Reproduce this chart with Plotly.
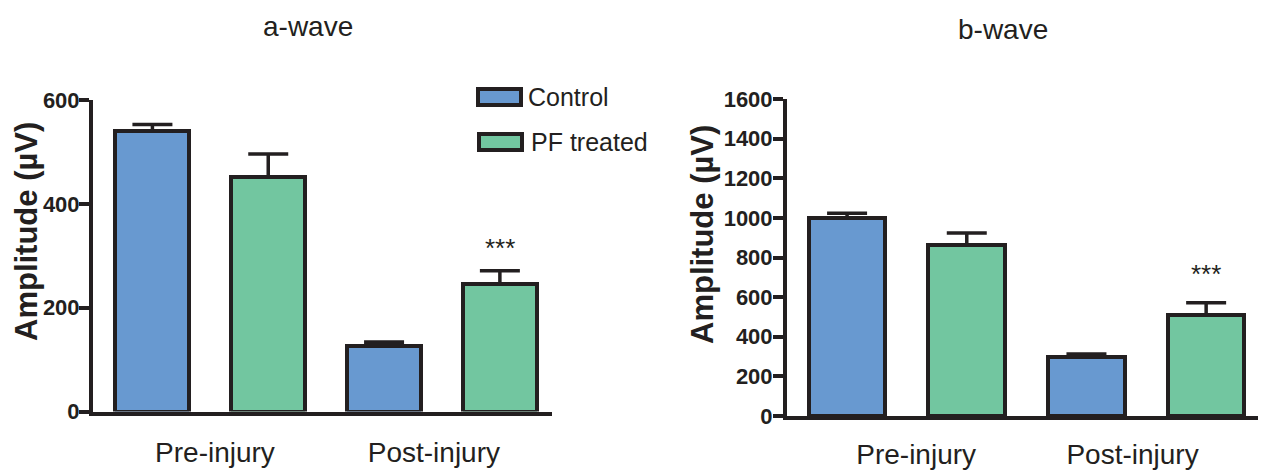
import plotly.graph_objects as go
from plotly.subplots import make_subplots

groups = ["Pre-injury", "Post-injury"]
series = ["Control", "PF treated"]
colors = ["#6899D0", "#72C6A0"]

# a-wave values (µV) and SEM
a_control = [540, 127]
a_control_err = [13, 7]
a_pf = [451, 246]
a_pf_err = [45, 25]

# b-wave values (µV) and SEM
b_control = [1000, 298]
b_control_err = [23, 15]
b_pf = [862, 508]
b_pf_err = [62, 63]

W, H = 1266, 474
OFF = 8  # page body margin
INK = "#231F20"
FONT = "Liberation Sans, Arial, sans-serif"

def px(x):
    return (x - OFF) / W

def py(y):
    return 1 - (y - OFF) / H

fig = make_subplots(rows=1, cols=2)

panels = [
    (1, [a_control, a_pf], [a_control_err, a_pf_err]),
    (2, [b_control, b_pf], [b_control_err, b_pf_err]),
]
for col, vals, errs in panels:
    for si, name in enumerate(series):
        xs = [gi * 2 + si for gi in range(len(groups))]
        fig.add_trace(go.Bar(
            x=xs, y=vals[si], name=name, width=0.64,
            marker=dict(color=colors[si], line=dict(color=INK, width=4)),
            error_y=dict(type="data", array=errs[si], arrayminus=[0] * len(groups),
                         symmetric=False, color=INK, thickness=3.5, width=20),
            showlegend=False,
        ), row=1, col=col)

axis_common = dict(showline=True, linecolor=INK, linewidth=4, showgrid=False,
                   zeroline=False, automargin=False)
xtickfont = dict(size=28, family=FONT, color=INK)
ytickfont = dict(size=22, family="Liberation Sans", color=INK, weight="bold")

fig.update_layout(
    width=W, height=H, margin=dict(l=0, r=0, t=0, b=0, autoexpand=False),
    paper_bgcolor="white", plot_bgcolor="white",
    font=dict(family=FONT, color=INK),
    bargap=0,
    xaxis=dict(domain=[px(93), px(552)], range=[-0.513, 3.45],
               tickvals=[0.54, 2.43], ticktext=groups, ticks="",
               tickfont=xtickfont, ticklabelstandoff=13, **axis_common),
    xaxis2=dict(domain=[px(787), px(1260)], range=[-0.502, 3.45],
                tickvals=[0.577, 2.385], ticktext=groups, ticks="",
                tickfont=xtickfont, ticklabelstandoff=10, **axis_common),
    yaxis=dict(domain=[py(411.5), py(100)], range=[0, 600],
               tickvals=[0, 200, 400, 600], ticks="outside", ticklen=10,
               tickwidth=4, tickcolor=INK, tickfont=ytickfont,
               ticklabelstandoff=-5, **axis_common),
    yaxis2=dict(domain=[py(416), py(99)], range=[0, 1600],
                tickvals=list(range(0, 1601, 200)), ticks="outside", ticklen=10,
                tickwidth=4, tickcolor=INK, tickfont=ytickfont,
                ticklabelstandoff=-4, **axis_common),
)

ann = []
# panel titles
ann.append(dict(text="a-wave", x=px(308), y=py(27), xref="paper", yref="paper",
                xanchor="center", yanchor="middle",
                showarrow=False, font=dict(size=28, color=INK)))
ann.append(dict(text="b-wave", x=px(1003), y=py(30), xref="paper", yref="paper",
                xanchor="center", yanchor="middle",
                showarrow=False, font=dict(size=28, color=INK)))
# y axis titles
for xx, yy in ((26, 232), (702, 235)):
    ann.append(dict(text="Amplitude (µV)", x=px(xx), y=py(yy), xref="paper", yref="paper",
                    xanchor="center", yanchor="middle",
                    showarrow=False, textangle=-90,
                    font=dict(size=31, color=INK, weight="bold")))
# significance marks
ann.append(dict(text="***", x=3, y=314, xref="x", yref="y", showarrow=False,
                xanchor="center", yanchor="middle", font=dict(size=26, color=INK)))
ann.append(dict(text="***", x=3, y=717, xref="x2", yref="y2", showarrow=False,
                xanchor="center", yanchor="middle", font=dict(size=26, color=INK)))
# legend labels
ann.append(dict(text=series[0], x=px(526), y=py(97), xref="paper", yref="paper",
                xanchor="left", yanchor="middle", showarrow=False,
                font=dict(size=25, color=INK)))
ann.append(dict(text=series[1], x=px(529), y=py(142), xref="paper", yref="paper",
                xanchor="left", yanchor="middle", showarrow=False,
                font=dict(size=25, color=INK)))
fig.update_layout(annotations=ann)

# legend swatches
fig.add_shape(type="rect", xref="paper", yref="paper",
              x0=px(478), x1=px(521), y0=py(105), y1=py(89),
              fillcolor=colors[0], line=dict(color=INK, width=4))
fig.add_shape(type="rect", xref="paper", yref="paper",
              x0=px(479), x1=px(522), y0=py(150), y1=py(134),
              fillcolor=colors[1], line=dict(color=INK, width=4))

fig.write_html("out.html")
